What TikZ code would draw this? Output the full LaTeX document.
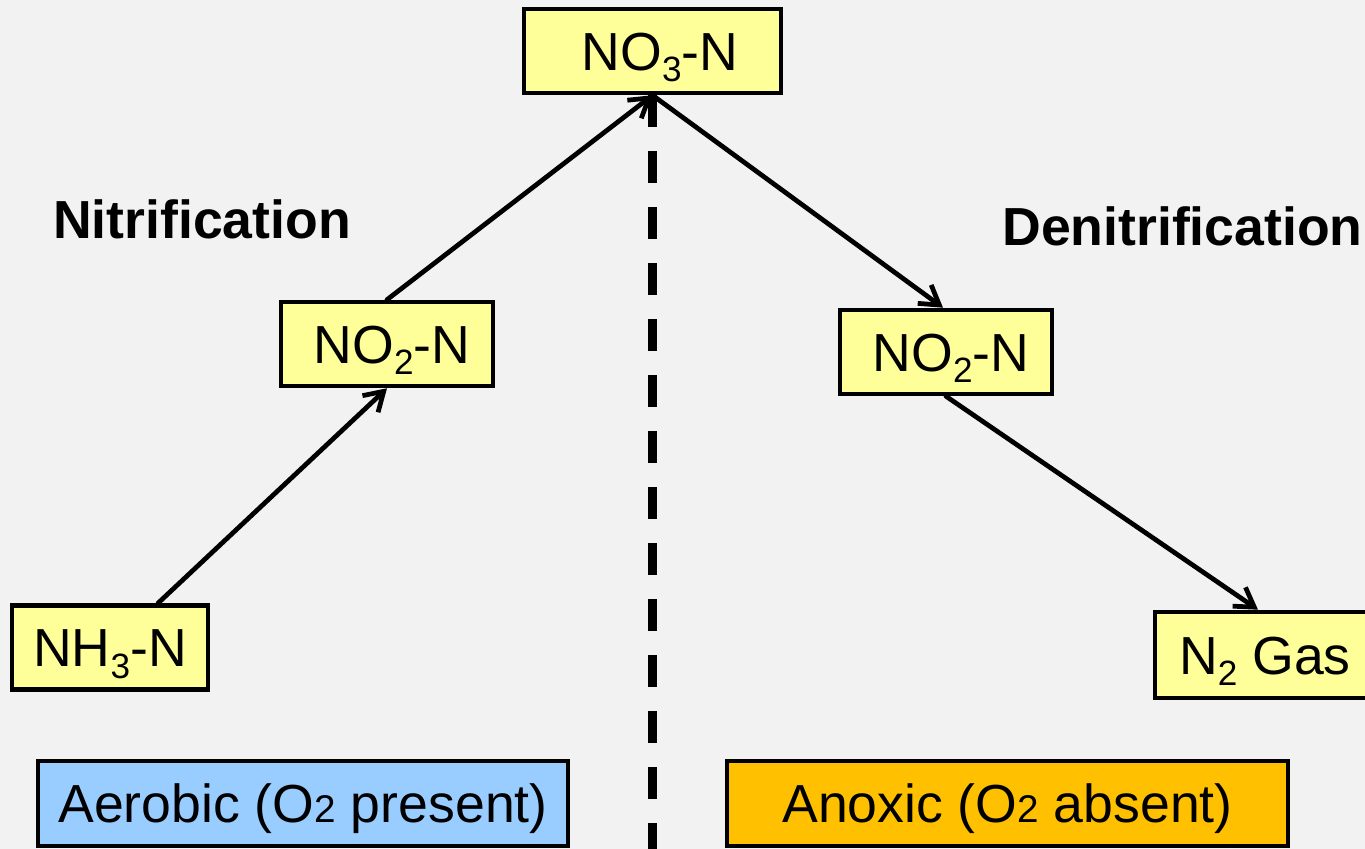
\documentclass[tikz,border=0pt]{standalone}
\usepackage{fontspec}
\setmainfont{Liberation Sans}
\usetikzlibrary{arrows.meta}
\definecolor{boxyellow}{HTML}{FFFF99}
\definecolor{aerblue}{HTML}{99CCFF}
\definecolor{anoxorange}{HTML}{FFC000}
\definecolor{bggray}{HTML}{F2F2F2}
\newcommand{\smalltwo}{{\fontsize{22}{22}\selectfont 2}}
\newcommand{\chemsub}[1]{\raisebox{-6.5pt}{\fontsize{20}{20}\selectfont #1}}

\begin{document}
\begin{tikzpicture}[
  font=\fontsize{30.5}{36}\selectfont,
  species/.style={draw, line width=2.6pt, fill=boxyellow, minimum height=1.68cm, inner sep=0pt,
    text height=0.77cm, text depth=0pt},
  zone/.style={draw, line width=2.6pt, minimum height=1.7cm, inner sep=0pt,
    text height=0.77cm, text depth=0pt},
  steplabel/.style={font=\fontsize{30.5}{36}\selectfont\bfseries},
  flow/.style={-{Straight Barb[length=10.5pt,width=13pt]}, line width=2.7pt, line cap=round}
]
\fill[bggray] (0,0) rectangle (27.3,16.98);
\clip (0,0) rectangle (27.3,16.98);
% nitrogen species
\node[species, minimum width=5.14cm] (no3) at (13.05,15.96) {\hspace{0.3cm}NO\chemsub{3}-N};
\node[species, minimum width=4.24cm] (nol) at (7.74,10.10) {\hspace{0.2cm}NO\chemsub{2}-N};
\node[species, minimum width=3.92cm] (nh3) at (2.20,4.03) {NH\chemsub{3}-N};
\node[species, minimum width=4.24cm] (nor) at (18.92,9.94) {\hspace{0.2cm}NO\chemsub{2}-N};
\node[species, minimum width=4.40cm, minimum height=1.72cm] (n2) at (25.30,3.88) {N\chemsub{2} Gas\hspace{0.5cm}};
% process names
\node[steplabel] (nitri) at (4.04,12.60) {Nitrification};
\node[steplabel] (denitri) at (23.65,12.46) {Denitrification};
% zones
\node[zone, fill=aerblue, minimum width=10.6cm] (aerobic) at (6.06,0.91) {Aerobic (O\smalltwo{} present)};
\node[zone, fill=anoxorange, minimum width=11.22cm] (anoxic) at (20.15,0.91) {Anoxic (O\smalltwo{} absent)};
% divider
\coordinate (base) at (13.05,0);
\draw[line width=4.6pt, dash pattern=on 0.64cm off 0.48cm] (no3.south) -- (base);
% reactions
\draw[flow] ([xshift=0.96cm]nh3.north) -- (nol.south);
\draw[flow] (nol.north) -- (no3.south);
\draw[flow] (no3.south) -- ([xshift=-0.06cm]nor.north);
\draw[flow] (nor.south) -- ([xshift=-0.14cm]n2.north);
\end{tikzpicture}
\end{document}
